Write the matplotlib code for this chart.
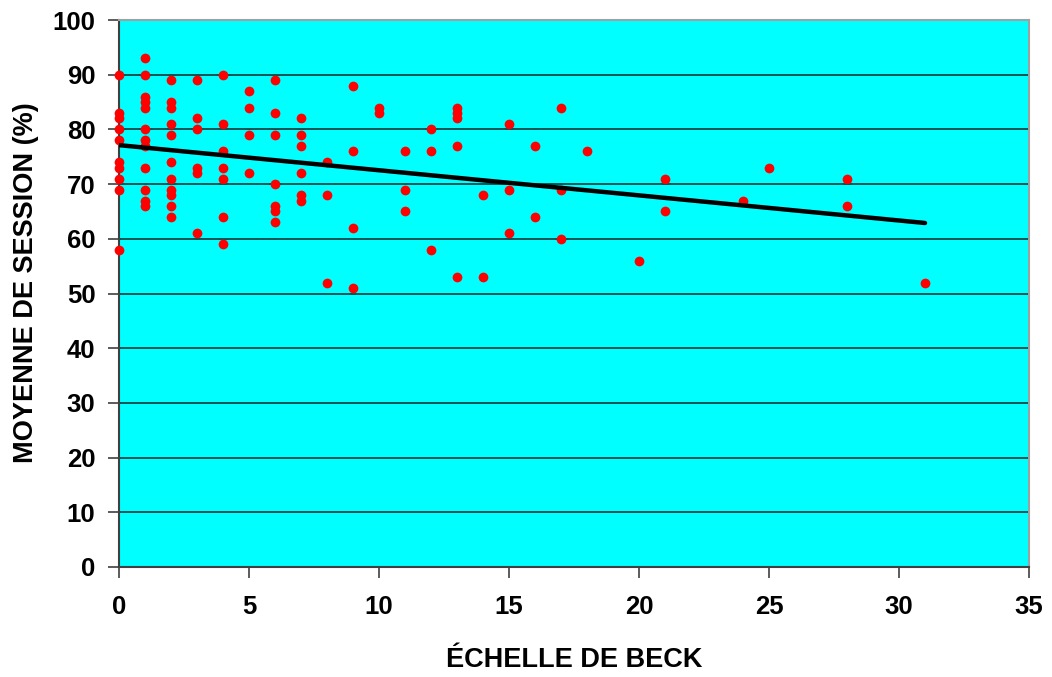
import numpy as np
import matplotlib
matplotlib.use("Agg")
from matplotlib import pyplot as plt

# Beck scale score and session average (%)
beck = [0]*10 + [1]*12 + [2]*11 + [3]*6 + [4]*7 + [5]*4 + [6]*7 + [7]*6 + [8]*3 + [9]*4 \
    + [10]*2 + [11]*3 + [12]*3 + [13]*5 + [14]*2 + [15]*3 + [16]*2 + [17]*3 + [18] \
    + [20] + [21]*2 + [24] + [25] + [28]*2 + [31]
moyenne = [90, 83, 82, 80, 78, 74, 73, 71, 69, 58,
           93, 90, 86, 85, 84, 80, 78, 77, 73, 69, 67, 66,
           89, 85, 84, 81, 79, 74, 71, 69, 68, 66, 64,
           89, 82, 80, 73, 72, 61,
           90, 81, 76, 73, 71, 64, 59,
           87, 84, 79, 72,
           89, 83, 79, 70, 66, 65, 63,
           82, 79, 77, 72, 68, 67,
           74, 68, 52,
           88, 76, 62, 51,
           84, 83,
           76, 69, 65,
           80, 76, 58,
           84, 83, 82, 77, 53,
           68, 53,
           81, 69, 61,
           77, 64,
           84, 69, 60,
           76,
           56,
           71, 65,
           67,
           73,
           71, 66,
           52]

x = np.array(beck, dtype=float)
y = np.array(moyenne, dtype=float)
slope, inter = np.polyfit(x, y, 1)
xl = np.array([0, x.max()])

plt.rcParams['font.family'] = ['Liberation Sans', 'DejaVu Sans']
plt.rcParams['font.weight'] = 'bold'

fig = plt.figure(figsize=(10.52, 6.77), dpi=100)
ax = fig.add_axes([119/1052, 110/677, 910/1052, 547/677])
ax.set_facecolor('#00FFFF')

for v in range(10, 100, 10):
    ax.axhline(v, color='#003838', lw=1.2, zorder=1)

ax.plot(x, y, 'o', color='#FF0000', ms=7, mec='none', zorder=3, clip_on=False)
ax.plot(xl, inter + slope * xl, color='black', lw=3.2, zorder=4, solid_capstyle='round')

ax.set_xlim(0, 35)
ax.set_ylim(0, 100)
ax.set_xticks(range(0, 36, 5))
ax.set_yticks(range(0, 101, 10))
ax.tick_params(direction='out', length=8, width=1.2, color='#404040', labelsize=18.5)
ax.tick_params(axis='y', pad=9)
ax.tick_params(axis='x', pad=12)
for lab in ax.get_xticklabels() + ax.get_yticklabels():
    lab.set_fontweight('bold')

for s in ['top', 'right']:
    ax.spines[s].set_color('#a0a0a0')
    ax.spines[s].set_linewidth(1.5)
for s in ['left', 'bottom']:
    ax.spines[s].set_color('#404040')
    ax.spines[s].set_linewidth(1.5)

ax.set_xlabel('ÉCHELLE DE BECK', fontsize=19.5, fontweight='bold', labelpad=20)
ax.set_ylabel('MOYENNE DE SESSION (%)', fontsize=19.5, fontweight='bold', labelpad=12)
ax.yaxis.set_label_coords(-0.088, 0.52)

fig.savefig('out.png', dpi=100)
